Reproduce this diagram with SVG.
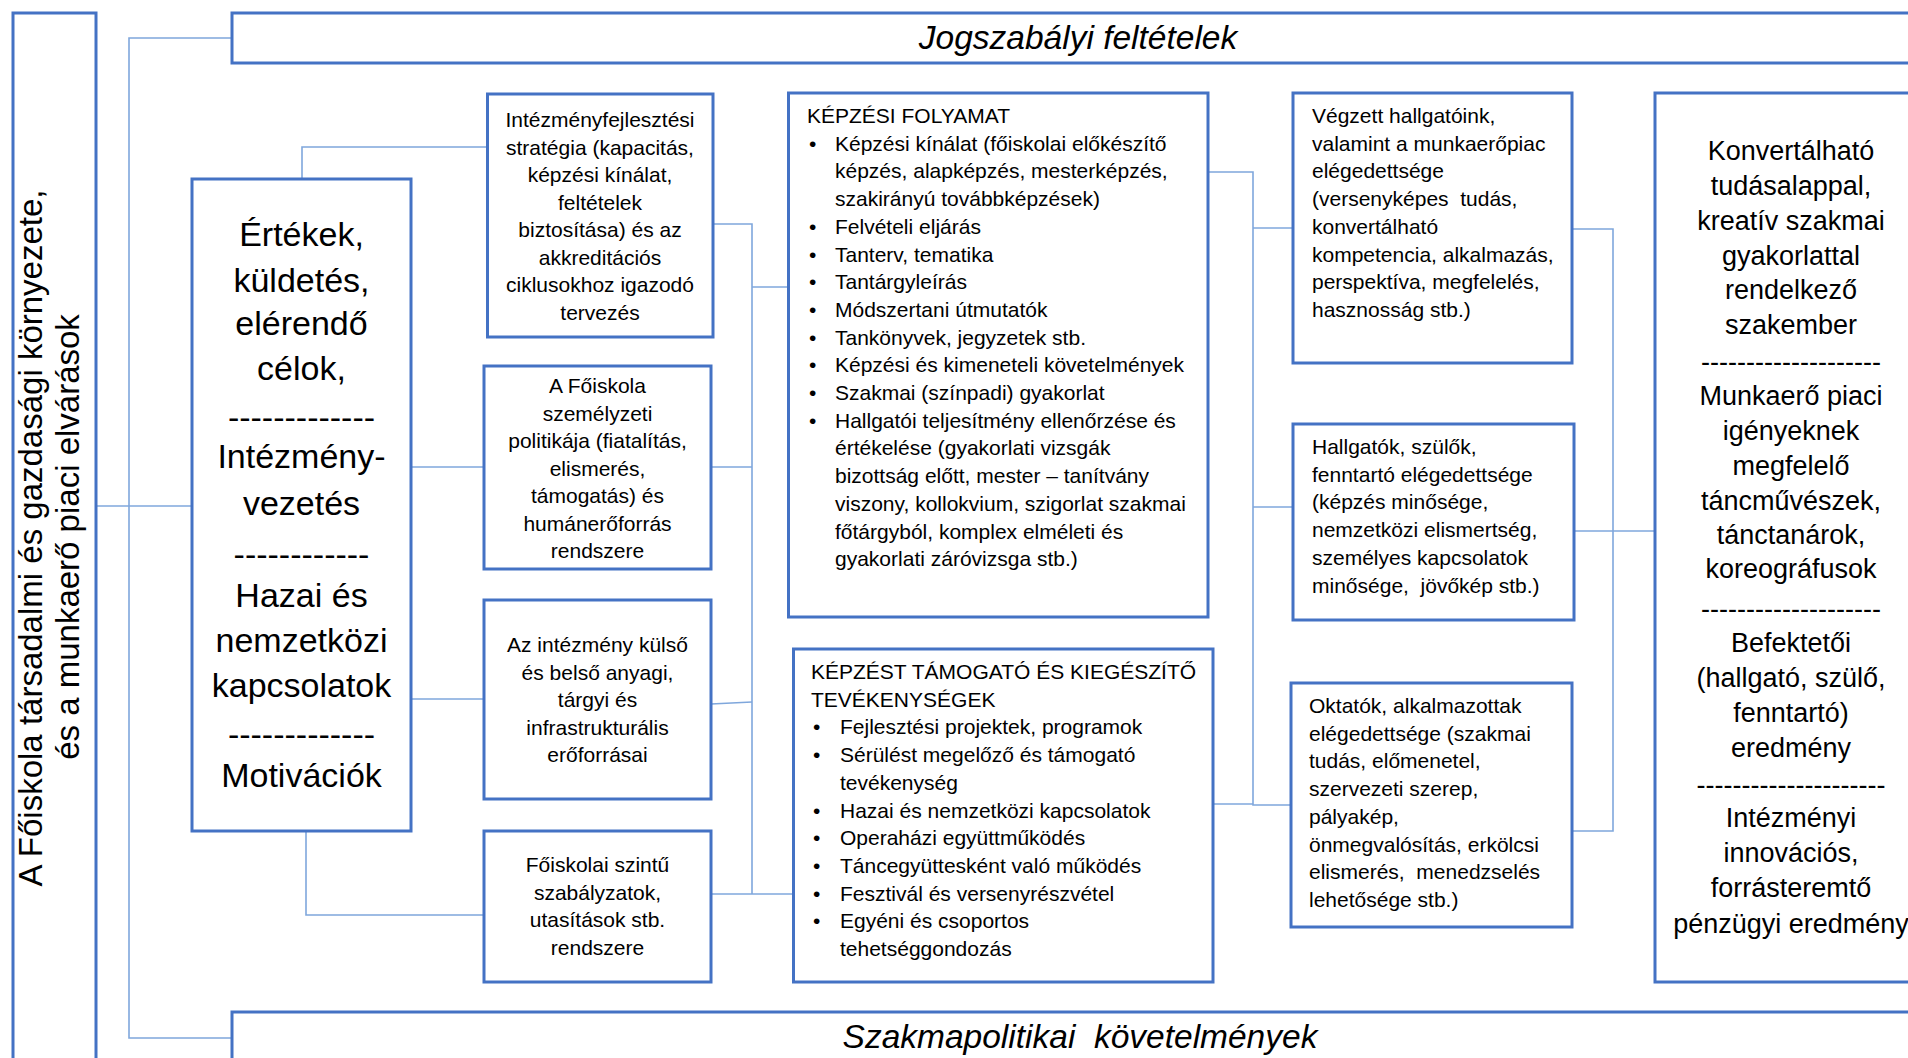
<svg xmlns="http://www.w3.org/2000/svg" width="1908" height="1058" viewBox="0 0 1908 1058">
<style>
.box{fill:#fff;stroke:#4472c4;stroke-width:3}
.con{fill:none;stroke:#7fa7dc;stroke-width:1.6}
text{font-family:"Liberation Sans",Arial,sans-serif;fill:#000}
.s{font-size:21px}
.c{text-anchor:middle}
.big{font-size:34px;text-anchor:middle}
.rt{font-size:27px;text-anchor:middle}
.it{font-size:33.5px;font-style:italic;text-anchor:middle;white-space:pre}
.side{font-size:33px;text-anchor:middle}
.pre{white-space:pre}
</style>
<rect width="1908" height="1058" fill="#fff"/>

<g id="connectors">
<path class="con" d="M232,38 H129 V1038 H232"/>
<path class="con" d="M96,506 H192"/>
<path class="con" d="M302,179 V147 H487"/>
<path class="con" d="M411,467 H484"/>
<path class="con" d="M411,699 H484"/>
<path class="con" d="M306,831 V915 H484"/>
<path class="con" d="M713,224 H752 V894"/>
<path class="con" d="M711,467 H752"/>
<path class="con" d="M711,704 L752,702"/>
<path class="con" d="M711,894 H794"/>
<path class="con" d="M752,287 H788"/>
<path class="con" d="M1208,172 H1253 V805 H1291"/>
<path class="con" d="M1213,804 H1253"/>
<path class="con" d="M1253,228 H1293"/>
<path class="con" d="M1253,507 H1293"/>
<path class="con" d="M1572,229 H1613 V831 H1572"/>
<path class="con" d="M1574,531 H1655"/>
</g>

<g id="env">
<rect class="box" x="13" y="13" width="83" height="1060"/>
<text class="side" transform="translate(42,538) rotate(-90)">A Főiskola társadalmi és gazdasági környezete,</text>
<text class="side" transform="translate(79,537) rotate(-90)">és a munkaerő piaci elvárások</text>
</g>

<g id="jogszabalyi">
<rect class="box" x="232" y="13" width="1700" height="50"/>
<text class="it" x="1078" y="49">Jogszabályi feltételek</text>
</g>

<g id="szakmapolitikai">
<rect class="box" x="232" y="1012" width="1700" height="70"/>
<text class="it" x="1080" y="1048" xml:space="preserve">Szakmapolitikai  követelmények</text>
</g>

<g id="ertekek">
<rect class="box" x="192" y="179" width="219" height="652"/>
<text class="big" x="301.5" y="246">Értékek,</text>
<text class="big" x="301.5" y="292">küldetés,</text>
<text class="big" x="301.5" y="335">elérendő</text>
<text class="big" x="301.5" y="380">célok,</text>
<text class="big" x="301.5" y="429">-------------</text>
<text class="big" x="301.5" y="468">Intézmény-</text>
<text class="big" x="301.5" y="515">vezetés</text>
<text class="big" x="301.5" y="566">------------</text>
<text class="big" x="301.5" y="607">Hazai és</text>
<text class="big" x="301.5" y="652">nemzetközi</text>
<text class="big" x="301.5" y="697">kapcsolatok</text>
<text class="big" x="301.5" y="746">-------------</text>
<text class="big" x="301.5" y="787">Motivációk</text>
</g>

<g id="intezmenyfejlesztes">
<rect class="box" x="487.5" y="94" width="225.5" height="243"/>
<text class="s c" x="600" y="127">Intézményfejlesztési</text>
<text class="s c" x="600" y="154.5">stratégia (kapacitás,</text>
<text class="s c" x="600" y="182">képzési kínálat,</text>
<text class="s c" x="600" y="209.5">feltételek</text>
<text class="s c" x="600" y="237">biztosítása) és az</text>
<text class="s c" x="600" y="264.5">akkreditációs</text>
<text class="s c" x="600" y="292">ciklusokhoz igazodó</text>
<text class="s c" x="600" y="319.5">tervezés</text>
</g>

<g id="szemelyzeti">
<rect class="box" x="484" y="366" width="227" height="203"/>
<text class="s c" x="597.5" y="393">A Főiskola</text>
<text class="s c" x="597.5" y="420.5">személyzeti</text>
<text class="s c" x="597.5" y="448">politikája (fiatalítás,</text>
<text class="s c" x="597.5" y="475.5">elismerés,</text>
<text class="s c" x="597.5" y="503">támogatás) és</text>
<text class="s c" x="597.5" y="530.5">humánerőforrás</text>
<text class="s c" x="597.5" y="558">rendszere</text>
</g>

<g id="eroforrasok">
<rect class="box" x="484" y="600" width="227" height="199"/>
<text class="s c" x="597.5" y="652">Az intézmény külső</text>
<text class="s c" x="597.5" y="679.5">és belső anyagi,</text>
<text class="s c" x="597.5" y="707">tárgyi és</text>
<text class="s c" x="597.5" y="734.5">infrastrukturális</text>
<text class="s c" x="597.5" y="762">erőforrásai</text>
</g>

<g id="szabalyzatok">
<rect class="box" x="484" y="831" width="227" height="151"/>
<text class="s c" x="597.5" y="872">Főiskolai szintű</text>
<text class="s c" x="597.5" y="899.5">szabályzatok,</text>
<text class="s c" x="597.5" y="927">utasítások stb.</text>
<text class="s c" x="597.5" y="954.5">rendszere</text>
</g>

<g id="kepzesi-folyamat">
<rect class="box" x="788.5" y="93" width="419.5" height="524"/>
<text class="s" x="807" y="123">KÉPZÉSI FOLYAMAT</text>
<g class="s">
<text x="809" y="150.7">•</text><text x="835" y="150.7">Képzési kínálat (főiskolai előkészítő</text>
<text x="835" y="178.4">képzés, alapképzés, mesterképzés,</text>
<text x="835" y="206.1">szakirányú továbbképzések)</text>
<text x="809" y="233.8">•</text><text x="835" y="233.8">Felvételi eljárás</text>
<text x="809" y="261.5">•</text><text x="835" y="261.5">Tanterv, tematika</text>
<text x="809" y="289.2">•</text><text x="835" y="289.2">Tantárgyleírás</text>
<text x="809" y="316.9">•</text><text x="835" y="316.9">Módszertani útmutatók</text>
<text x="809" y="344.6">•</text><text x="835" y="344.6">Tankönyvek, jegyzetek stb.</text>
<text x="809" y="372.3">•</text><text x="835" y="372.3">Képzési és kimeneteli követelmények</text>
<text x="809" y="400">•</text><text x="835" y="400">Szakmai (színpadi) gyakorlat</text>
<text x="809" y="427.7">•</text><text x="835" y="427.7">Hallgatói teljesítmény ellenőrzése és</text>
<text x="835" y="455.4">értékelése (gyakorlati vizsgák</text>
<text x="835" y="483.1">bizottság előtt, mester – tanítvány</text>
<text x="835" y="510.8">viszony, kollokvium, szigorlat szakmai</text>
<text x="835" y="538.5">főtárgyból, komplex elméleti és</text>
<text x="835" y="566.2">gyakorlati záróvizsga stb.)</text>
</g>
</g>

<g id="kepzest-tamogato">
<rect class="box" x="793.5" y="649" width="419.5" height="333"/>
<g class="s">
<text x="811" y="679">KÉPZÉST TÁMOGATÓ ÉS KIEGÉSZÍTŐ</text>
<text x="811" y="706.7">TEVÉKENYSÉGEK</text>
<text x="813" y="734.4">•</text><text x="840" y="734.4">Fejlesztési projektek, programok</text>
<text x="813" y="762.1">•</text><text x="840" y="762.1">Sérülést megelőző és támogató</text>
<text x="840" y="789.8">tevékenység</text>
<text x="813" y="817.5">•</text><text x="840" y="817.5">Hazai és nemzetközi kapcsolatok</text>
<text x="813" y="845.2">•</text><text x="840" y="845.2">Operaházi együttműködés</text>
<text x="813" y="872.9">•</text><text x="840" y="872.9">Táncegyüttesként való működés</text>
<text x="813" y="900.6">•</text><text x="840" y="900.6">Fesztivál és versenyrészvétel</text>
<text x="813" y="928.3">•</text><text x="840" y="928.3">Egyéni és csoportos</text>
<text x="840" y="956">tehetséggondozás</text>
</g>
</g>

<g id="vegzett">
<rect class="box" x="1293" y="93" width="279" height="270"/>
<g class="s">
<text x="1312" y="123">Végzett hallgatóink,</text>
<text x="1312" y="150.7">valamint a munkaerőpiac</text>
<text x="1312" y="178.4">elégedettsége</text>
<text x="1312" y="206.1" xml:space="preserve">(versenyképes  tudás,</text>
<text x="1312" y="233.8">konvertálható</text>
<text x="1312" y="261.5">kompetencia, alkalmazás,</text>
<text x="1312" y="289.2">perspektíva, megfelelés,</text>
<text x="1312" y="316.9">hasznosság stb.)</text>
</g>
</g>

<g id="hallgatok">
<rect class="box" x="1293" y="424" width="281" height="196"/>
<g class="s">
<text x="1312" y="454">Hallgatók, szülők,</text>
<text x="1312" y="481.7">fenntartó elégedettsége</text>
<text x="1312" y="509.4">(képzés minősége,</text>
<text x="1312" y="537.1">nemzetközi elismertség,</text>
<text x="1312" y="564.8">személyes kapcsolatok</text>
<text x="1312" y="592.5" xml:space="preserve">minősége,  jövőkép stb.)</text>
</g>
</g>

<g id="oktatok">
<rect class="box" x="1291" y="683" width="281" height="244"/>
<g class="s">
<text x="1309" y="713">Oktatók, alkalmazottak</text>
<text x="1309" y="740.7">elégedettsége (szakmai</text>
<text x="1309" y="768.4">tudás, előmenetel,</text>
<text x="1309" y="796.1">szervezeti szerep,</text>
<text x="1309" y="823.8">pályakép,</text>
<text x="1309" y="851.5">önmegvalósítás, erkölcsi</text>
<text x="1309" y="879.2" xml:space="preserve">elismerés,  menedzselés</text>
<text x="1309" y="906.9">lehetősége stb.)</text>
</g>
</g>

<g id="eredmenyek">
<rect class="box" x="1655" y="93" width="300" height="889"/>
<g class="rt">
<text x="1791" y="160">Konvertálható</text>
<text x="1791" y="195">tudásalappal,</text>
<text x="1791" y="230">kreatív szakmai</text>
<text x="1791" y="265">gyakorlattal</text>
<text x="1791" y="299">rendelkező</text>
<text x="1791" y="334">szakember</text>
<text x="1791" y="371">--------------------</text>
<text x="1791" y="405">Munkaerő piaci</text>
<text x="1791" y="440">igényeknek</text>
<text x="1791" y="475">megfelelő</text>
<text x="1791" y="510">táncművészek,</text>
<text x="1791" y="544">tánctanárok,</text>
<text x="1791" y="578">koreográfusok</text>
<text x="1791" y="618">--------------------</text>
<text x="1791" y="652">Befektetői</text>
<text x="1791" y="687">(hallgató, szülő,</text>
<text x="1791" y="722">fenntartó)</text>
<text x="1791" y="757">eredmény</text>
<text x="1791" y="794">---------------------</text>
<text x="1791" y="827">Intézményi</text>
<text x="1791" y="862">innovációs,</text>
<text x="1791" y="897">forrásteremtő</text>
<text x="1791" y="933">pénzügyi eredmény</text>
</g>
</g>
</svg>
